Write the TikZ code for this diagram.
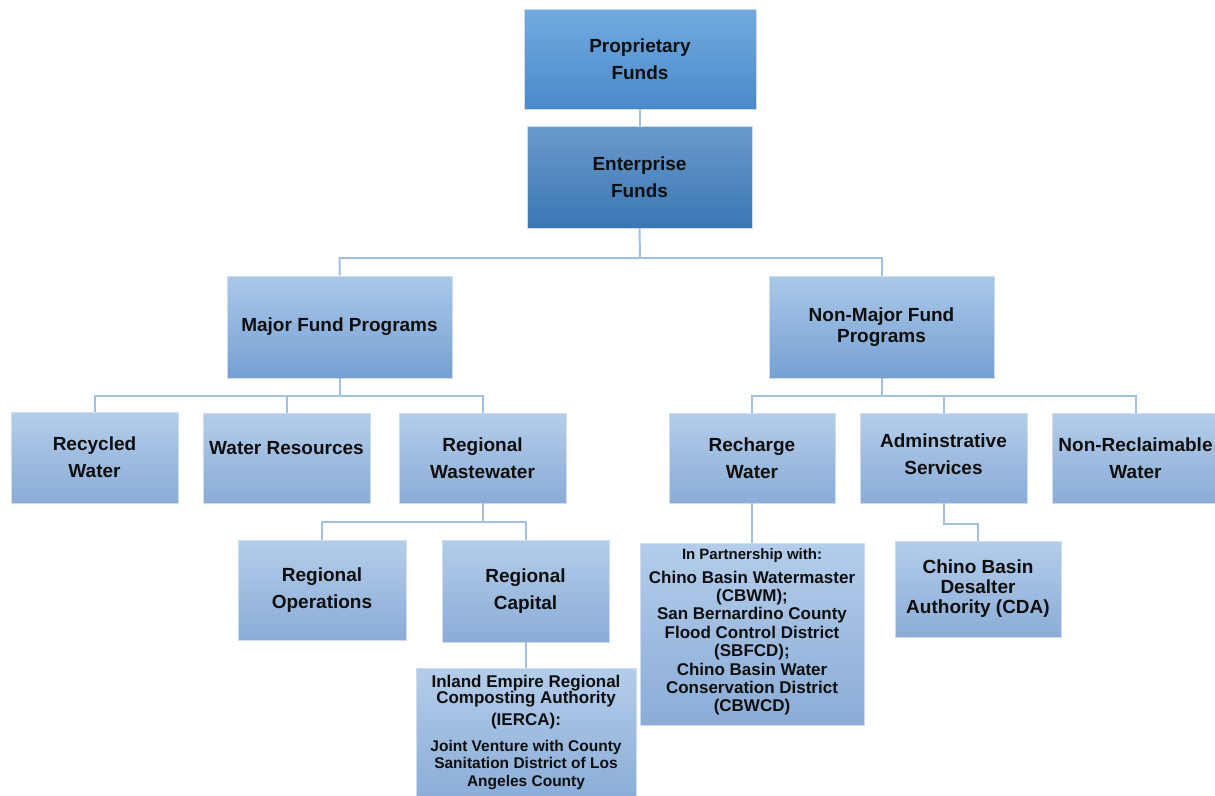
\documentclass[tikz,border=0pt]{standalone}
\usepackage{fontspec}
\setmainfont{Liberation Sans}
\definecolor{pfTop}{RGB}{114,170,224}
\definecolor{pfBot}{RGB}{74,138,202}
\definecolor{efTop}{RGB}{106,154,204}
\definecolor{efBot}{RGB}{58,118,180}
\definecolor{l2Top}{RGB}{170,200,234}
\definecolor{l2Bot}{RGB}{118,160,210}
\definecolor{l3Top}{RGB}{180,205,235}
\definecolor{l3Bot}{RGB}{138,172,214}
\definecolor{boxedge}{RGB}{205,220,238}
\definecolor{connc}{RGB}{162,192,228}
\definecolor{txt}{RGB}{15,15,15}
\begin{document}
\begin{tikzpicture}[x=1pt,y=-1pt,
  box/.style={draw=boxedge, line width=0.8pt, inner sep=0pt, align=center,
    text=txt, font=\bfseries\fontsize{19}{27}\selectfont},
  pfbox/.style={box, top color=pfTop, bottom color=pfBot},
  efbox/.style={box, top color=efTop, bottom color=efBot},
  midbox/.style={box, top color=l2Top, bottom color=l2Bot},
  leafbox/.style={box, top color=l3Top, bottom color=l3Bot},
  txtnode/.style={inner sep=0pt, align=center, text=txt},
  conn/.style={draw=connc, line width=2pt}
]
\useasboundingbox (0,0) rectangle (1215,795);

\node[pfbox, minimum width=232pt, minimum height=100pt] (pf) at (640,59) {Proprietary\\Funds};
\node[efbox, minimum width=225pt, minimum height=102pt] (ef) at (639.5,177) {Enterprise\\Funds};
\node[midbox, minimum width=225pt, minimum height=102pt] (mfp) at (339.5,327) {Major Fund Programs};
\node[midbox, minimum width=225pt, minimum height=102pt, font=\bfseries\fontsize{19}{21}\selectfont] (nmf) at (881.5,327) {Non-Major Fund\\Programs};

\node[leafbox, minimum width=167pt, minimum height=91pt] (rw) at (94.5,457.5) {Recycled\\Water};
\node[leafbox, minimum width=167pt, minimum height=90pt] (wr) at (286.5,458) {\raisebox{10pt}[\height][\depth]{Water Resources}};
\node[leafbox, minimum width=167pt, minimum height=90pt] (rww) at (482.5,458) {Regional\\Wastewater};
\node[leafbox, minimum width=166pt, minimum height=90pt] (rcw) at (752,458) {Recharge\\Water};
\node[leafbox, minimum width=167pt, minimum height=90pt] (as) at (943.5,458) {\raisebox{4pt}[\height][\depth]{Adminstrative}\\\raisebox{4pt}[\height][\depth]{Services}};
\node[leafbox, minimum width=167pt, minimum height=90pt] (nrw) at (1135.5,458) {Non-Reclaimable\\Water};

\node[leafbox, minimum width=168pt, minimum height=100pt] (ro) at (322,590) {Regional\\Operations};
\node[leafbox, minimum width=167pt, minimum height=102pt] (rc) at (525.5,591) {Regional\\Capital};
\node[leafbox, minimum width=166pt, minimum height=96pt, font=\bfseries\fontsize{19}{20}\selectfont] (cda) at (978,589) {Chino Basin\\Desalter\\Authority (CDA)};

\node[leafbox, minimum width=220pt, minimum height=132pt] (ier) at (526,734) {};
\node[leafbox, minimum width=224pt, minimum height=182pt] (pb) at (752,634) {};

% texts of the two large boxes
\node[txtnode, font=\bfseries\fontsize{17}{16}\selectfont] (ierA) at (526,691) {Inland Empire Regional\\Composting Authority};
\node[txtnode, font=\bfseries\fontsize{17}{16}\selectfont] (ierB) at (526,721) {(IERCA):};
\node[txtnode, font=\bfseries\fontsize{15.5}{17.5}\selectfont] (ierC) at (526,765) {Joint Venture with County\\Sanitation District of Los\\Angeles County};

\node[txtnode, font=\bfseries\fontsize{15}{16}\selectfont] (pbA) at (752,556) {In Partnership with:};
\node[txtnode, font=\bfseries\fontsize{17}{18.4}\selectfont] (pbB) at (752,643) {Chino Basin Watermaster\\(CBWM);\\San Bernardino County\\Flood Control District\\(SBFCD);\\Chino Basin Water\\Conservation District\\(CBWCD)};

% connectors
\coordinate (busA) at (640,258);
\coordinate (busB) at (339.5,396);
\coordinate (busC) at (881.5,396);
\coordinate (busD) at (482.5,522);
\draw[conn] (pf.south) -- (pf.south |- ef.north);
\draw[conn] (ef.south) -- (busA) -| (mfp.north);
\draw[conn] (busA) -| (nmf.north);
\draw[conn] (mfp.south) -- (busB) -| (rw.north);
\draw[conn] (busB) -| (wr.north);
\draw[conn] (busB) -| (rww.north);
\draw[conn] (nmf.south) -- (busC) -| (rcw.north);
\draw[conn] (busC) -| (as.north);
\draw[conn] (busC) -| (nrw.north);
\draw[conn] (rww.south) -- (busD) -| (ro.north);
\draw[conn] (busD) -| (rc.north);
\draw[conn] (rc.south) -- (rc.south |- ier.north);
\draw[conn] (rcw.south) -- (rcw.south |- pb.north);
\draw[conn] (as.south) -- ++(0,21) -| (cda.north);
\end{tikzpicture}
\end{document}
